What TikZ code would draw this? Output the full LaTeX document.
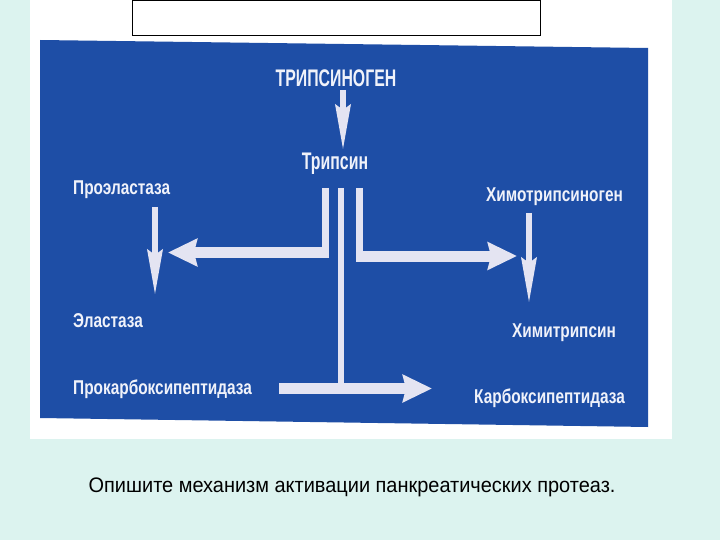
\documentclass[tikz,border=0pt]{standalone}
\usepackage{fontspec}
\setmainfont{Liberation Sans}
\newfontfamily\labfont[FakeStretch=0.77]{Liberation Sans}
\newfontfamily\topfont[FakeStretch=0.66]{Liberation Sans}
\newfontfamily\capfont[FakeStretch=0.95]{Liberation Sans}
\usetikzlibrary{arrows.meta}
\definecolor{bgc}{RGB}{220,243,239}
\definecolor{bluec}{RGB}{30,78,166}
\definecolor{txtc}{RGB}{240,242,250}
\definecolor{arrc}{RGB}{228,228,242}
\tikzset{
  lab/.style={text=txtc, font=\labfont\bfseries\fontsize{20}{23}\selectfont, inner sep=0pt},
  toplab/.style={text=txtc, font=\topfont\bfseries\fontsize{24}{28}\selectfont, inner sep=0pt},
  fatarrow/.style={draw=arrc, line width=11pt, -{Stealth[length=29pt,width=27pt,inset=3pt]}},
  thinarrow/.style={draw=arrc, line width=6pt, -{Stealth[length=45pt,width=15pt,inset=5pt]}},
  bar/.style={draw=arrc, line width=6.5pt}
}
\begin{document}
\begin{tikzpicture}[x=1pt,y=-1pt]
\useasboundingbox (0,0) rectangle (720,540);
\fill[bgc] (0,0) rectangle (720,540);
\fill[white] (30,0) rectangle (672,439);
\draw[black, line width=1pt] (132,0.5) rectangle (540,36);
\fill[bluec] (40,40) -- (648,48) -- (648,427) -- (40,418) -- cycle;

% labels
\node[toplab, anchor=base] (tg) at (336,87) {ТРИПСИНОГЕН};
\node[toplab, anchor=base] (tr) at (335,170) {Трипсин};
\node[lab, anchor=base west] (pe) at (73,195) {Проэластаза};
\node[lab, anchor=base west] (el) at (73,327) {Эластаза};
\node[lab, anchor=base west] (ctg) at (486,202) {Химотрипсиноген};
\node[lab, anchor=base west] (ct) at (512,337) {Химитрипсин};
\node[lab, anchor=base west] (pcp) at (73,394) {Прокарбоксипептидаза};
\node[lab, anchor=base west] (cp) at (474,403) {Карбоксипептидаза};

% arrow coordinates
\coordinate (t0) at (343,90);
\coordinate (t1) at (343,150);
\coordinate (e0) at (155,207);
\coordinate (e1) at (155,295);
\coordinate (c0) at (529,213);
\coordinate (c1) at (529,303);
\coordinate (lb0) at (325.5,188);
\coordinate (lb1) at (325.5,257.5);
\coordinate (ls) at (329,252.5);
\coordinate (le) at (168,252.5);
\coordinate (rb0) at (359.5,188);
\coordinate (rb1) at (359.5,261.5);
\coordinate (rs) at (356,256);
\coordinate (re) at (517,256);
\coordinate (mb0) at (341,188);
\coordinate (mb1) at (341,390);
\coordinate (ms) at (279,388.5);
\coordinate (me) at (432,388.5);

\draw[thinarrow] (t0) -- (t1);
\draw[thinarrow] (e0) -- (e1);
\draw[thinarrow] (c0) -- (c1);
\draw[bar] (lb0) -- (lb1);
\draw[fatarrow] (ls) -- (le);
\draw[bar] (rb0) -- (rb1);
\draw[fatarrow] (rs) -- (re);
\draw[bar] (mb0) -- (mb1);
\draw[fatarrow] (ms) -- (me);

\node[anchor=base, inner sep=0pt, font=\capfont\fontsize{21}{24}\selectfont] (capt) at (352,492) {Опишите механизм активации панкреатических протеаз.};
\end{tikzpicture}
\end{document}
